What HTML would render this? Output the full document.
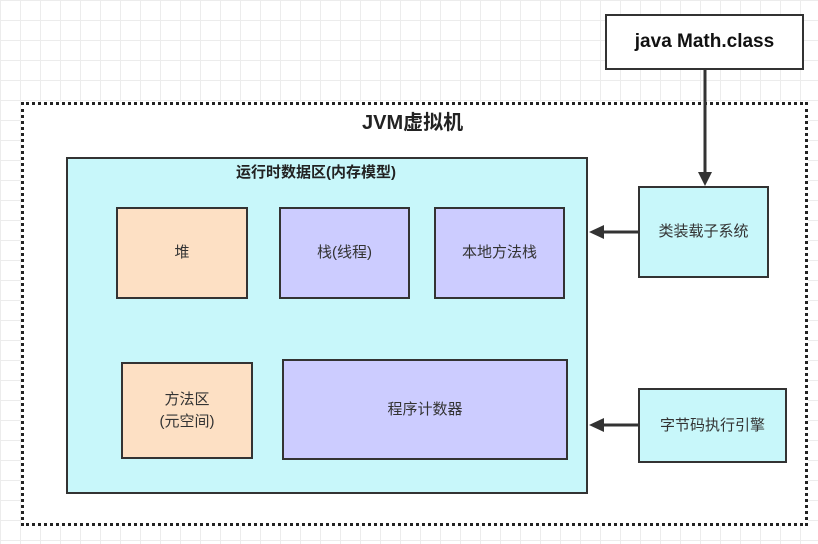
<!DOCTYPE html>
<html><head><meta charset="utf-8"><style>
body{margin:0;width:818px;height:544px;overflow:hidden;background-color:#fff;
background-image:linear-gradient(#ececec 1px,transparent 1px),linear-gradient(90deg,#ececec 1px,transparent 1px);background-size:20px 20px;
font-family:"Liberation Sans","Noto Sans CJK SC",sans-serif;position:relative}
.b{position:absolute;box-sizing:border-box;border:2px solid #333;display:flex;align-items:center;justify-content:center;text-align:center;font-size:15px;color:#333;line-height:1.45}
.t{position:absolute;font-weight:bold;color:#222;white-space:nowrap}
</style></head><body>
<div style="position:absolute;left:21px;top:102px;width:787px;height:424px;border:3px dotted #222;box-sizing:border-box;background:#fff"></div>
<div class="t" style="left:362px;top:106px;font-size:20px">JVM虚拟机</div>
<div class="b" style="left:66px;top:157px;width:522px;height:337px;background:#c8f7fa"></div>
<div class="t" style="left:236px;top:161px;font-size:15px">运行时数据区(内存模型)</div>
<div class="b" style="left:116px;top:207px;width:132px;height:92px;background:#fde0c4">堆</div>
<div class="b" style="left:279px;top:207px;width:131px;height:92px;background:#ccccff">栈(线程)</div>
<div class="b" style="left:434px;top:207px;width:131px;height:92px;background:#ccccff">本地方法栈</div>
<div class="b" style="left:121px;top:362px;width:132px;height:97px;background:#fde0c4">方法区<br>(元空间)</div>
<div class="b" style="left:282px;top:359px;width:286px;height:101px;background:#ccccff">程序计数器</div>
<div class="b" style="left:605px;top:14px;width:199px;height:56px;background:#fff;font-weight:bold;font-size:19px;color:#111">java Math.class</div>
<div class="b" style="left:638px;top:186px;width:131px;height:92px;background:#c8f7fa">类装载子系统</div>
<div class="b" style="left:638px;top:388px;width:149px;height:75px;background:#c8f7fa">字节码执行引擎</div>
<svg width="818" height="544" style="position:absolute;left:0;top:0">
<g stroke="#333" stroke-width="3" fill="#333">
<line x1="705" y1="70" x2="705" y2="172"/><polygon points="698,172 712,172 705,186" stroke="none"/>
<line x1="638" y1="232" x2="604" y2="232"/><polygon points="604,225 604,239 589,232" stroke="none"/>
<line x1="638" y1="425" x2="604" y2="425"/><polygon points="604,418 604,432 589,425" stroke="none"/>
</g></svg>
</body></html>
